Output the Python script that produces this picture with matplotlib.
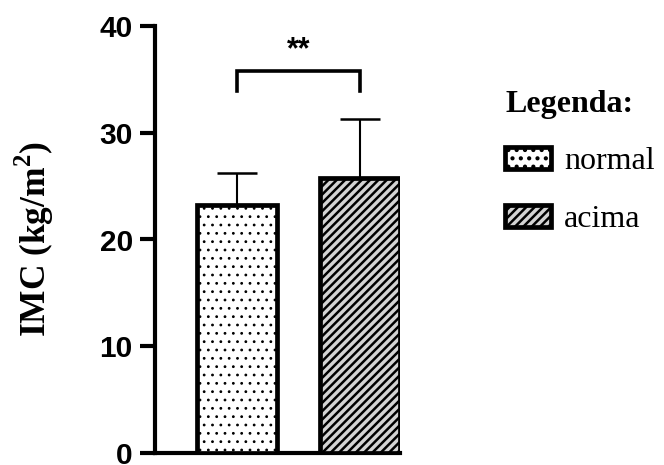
import matplotlib
matplotlib.use("Agg")
import matplotlib.pyplot as plt
from matplotlib.patches import Patch

categories = ["normal", "acima"]
means = [23.2, 25.8]
sd_upper = [3.0, 5.5]
bracket_y = 35.8
bracket_drop = 1.9
sig_label = "**"
yticks = [0, 10, 20, 30, 40]

plt.rcParams['hatch.linewidth'] = 1.8
plt.rcParams['mathtext.fontset'] = 'custom'
plt.rcParams['mathtext.rm'] = 'Liberation Serif:bold'
plt.rcParams['mathtext.bf'] = 'Liberation Serif:bold'

fig = plt.figure(figsize=(6.64, 4.65), dpi=100)
ax = fig.add_axes([155/664, 1-453/465, 245/664, 427/465])

x = [0, 1]
width = 0.65
faces = ["white", "#d3d3d3"]
hatches = ["..", "////"]
hatch_lw = [0.8, 1.8]
for xi, m, fc, h, hl, lab in zip(x, means, faces, hatches, hatch_lw, categories):
    bars = ax.bar(xi, m, width=width, color=fc, edgecolor="black", linewidth=3.4,
                  hatch=h, zorder=3, label=lab)
    for b in bars:
        if hasattr(b, "set_hatch_linewidth"):
            b.set_hatch_linewidth(hl)
ax.errorbar(x, means, yerr=[[0, 0], sd_upper], fmt="none", ecolor="black",
            elinewidth=1.5, capsize=14.5, capthick=1.8, zorder=2)

# significance bracket
ax.plot([x[0], x[0], x[1], x[1]],
        [bracket_y - bracket_drop, bracket_y, bracket_y, bracket_y - bracket_drop],
        color="black", linewidth=2.6, clip_on=False, solid_joinstyle="miter")
ax.text((x[0] + x[1]) / 2, bracket_y + 0.5, sig_label, ha="center", va="bottom",
        fontsize=22, fontweight="bold", family="Liberation Sans")

ax.set_xlim(-0.67, 1.325)
ax.set_ylim(0, 40)
ax.set_yticks(yticks)
ax.set_xticks([])
for s in ["top", "right"]:
    ax.spines[s].set_visible(False)
for s in ["left", "bottom"]:
    ax.spines[s].set_linewidth(3)
ax.tick_params(axis="y", length=11, width=3, pad=5, labelsize=21.5)
for t in ax.get_yticklabels():
    t.set_fontfamily("Liberation Sans")
    t.set_fontweight("bold")

ax.set_ylabel(r"IMC (kg/m$^{2}$)", fontsize=25.5, fontweight="bold",
              family="Liberation Serif")
ax.yaxis.set_label_coords(-0.405, 0.5)

handles = []
for fc, h, hl, lab in zip(faces, hatches, hatch_lw, categories):
    p = Patch(facecolor=fc, edgecolor="black", hatch=h, linewidth=3.4, label=lab)
    handles.append(p)
leg = fig.legend(handles=handles, title="Legenda:", loc="upper left",
                 bbox_to_anchor=(505/664, 1-90/465), frameon=False,
                 prop={"family": "Liberation Serif", "size": 23},
                 title_fontproperties={"family": "Liberation Serif", "size": 23,
                                       "weight": "bold"},
                 alignment="left", handlelength=1.45, handleheight=0.7,
                 handletextpad=0.4, labelspacing=0.88, borderpad=0,
                 borderaxespad=0)

fig.savefig("out.png", dpi=100)
